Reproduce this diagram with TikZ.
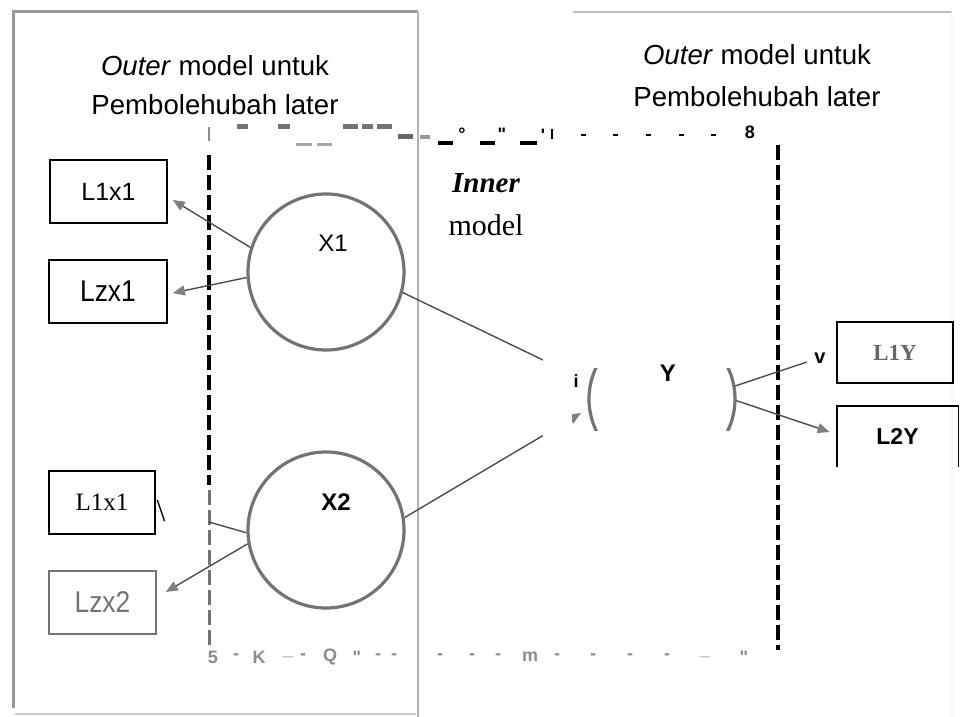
\documentclass[tikz,border=0pt]{standalone}
\usepackage{fontspec}
\setmainfont{Liberation Serif}
\setsansfont{Liberation Sans}
\usetikzlibrary{arrows.meta}

\begin{document}
\begin{tikzpicture}[x=0.5pt, y=-0.5pt,
  every node/.style={font=\sffamily\fontsize{12}{14}\selectfont},
  ttl/.style={anchor=base, font=\sffamily\fontsize{13.8}{16}\selectfont},
  box/.style={draw, line width=0.8pt, minimum height=31.5pt, inner sep=0pt},
  lv/.style={circle, draw=black!55, line width=1.6pt, minimum size=78pt, inner sep=0pt},
  lnk/.style={draw=black!70, line width=0.7pt},
  arr/.style={lnk, -{Triangle[length=6pt,width=5pt,color=black!50]}},
  frm/.style={draw=black!40, line width=1.5pt},
  dsh/.style={line width=2pt, dash pattern=on 7.5pt off 2.5pt},
  junk/.style={font=\sffamily\bfseries\fontsize{9}{9}\selectfont, text=black!45, inner sep=0pt}]

\useasboundingbox (0,0) rectangle (960,717);

% frames
\draw[frm] (13,708) -- (13,12) -- (418,12);
\draw[draw=black!30, line width=1pt] (418,12) -- (418,717);
\draw[draw=black!20, line width=0.8pt] (15,714) -- (416,714);
\draw[draw=black!25, line width=1.2pt] (573,12) -- (952,12);
\draw[draw=black!4, line width=0.8pt] (952,12) -- (952,717);

% titles
\node[ttl] (ttlL1) at (215,76) {\textit{Outer} model untuk};
\node[ttl] (ttlL2) at (215,115) {Pembolehubah later};
\node[ttl] (ttlR1) at (757,65) {\textit{Outer} model untuk};
\node[ttl] (ttlR2) at (757,107) {Pembolehubah later};
\node[anchor=base, font=\rmfamily\bfseries\itshape\fontsize{14.5}{15}\selectfont] (inner) at (486,193) {Inner};
\node[anchor=base, font=\rmfamily\fontsize{15}{15}\selectfont] (model) at (486,235) {model};

% inner model border
\draw[dsh] (209,155) -- (209,485);
\draw[dsh, draw=black!55, line width=1.5pt] (209,490) -- (209,645);
\draw[black!45, line width=0.6pt] (209,127) -- (209,141);
\draw[dsh] (778,145) -- (778,650);
\foreach \a/\b in {237/248, 278/290, 343/358, 362/373, 377/392}
  \draw[black!55, line width=2.5pt] (\a,127) -- (\b,127);
\foreach \a/\b in {296/312, 317/332}
  \draw[black!35, line width=1.5pt] (\a,145) -- (\b,145);
\draw[black!60, line width=2.5pt] (398,137) -- (413,137);
\draw[black!40, line width=2pt] (420,137) -- (430,137);
\foreach \a/\b in {438/453, 480/495, 520/537}
  \draw[line width=2pt] (\a,143) -- (\b,143);
\foreach \x in {583,615,648,681,713}
  \draw[line width=1.2pt] (\x-2.5,135) -- (\x+2.5,135);
\draw[line width=1pt] (552,129) -- (552,139);
\node[junk, text=black] (deg) at (462,134) {°};
\node[junk, text=black] (qq) at (502,134) {\textquotedbl};
\node[junk, text=black] (q) at (543,135) {\textquotesingle};
\node[junk, text=black] (eight) at (750,132) {8};
\foreach \x/\c in {213/5, 236/-, 259/K, 288/\_, 303/-, 330/Q, 357/\textquotedbl, 378/-, 394/-,
    440/-, 472/-, 498/-, 530/m, 557/-, 593/-, 630/-, 667/-, 705/\_, 744/\textquotedbl}
  \node[junk] (bot\x) at (\x,657) {\c};

% indicators
\node[box, minimum width=58.5pt] (L1x1) at (108.5,191.5) {\fontsize{12.5}{13}\selectfont L1x1};
\node[box, minimum width=59pt] (Lzx1) at (108,291.5) {\fontsize{15}{15}\selectfont\scalebox{0.88}[1]{Lzx1}};
\node[box, minimum width=53pt, font=\rmfamily\fontsize{12.5}{13}\selectfont] (L1x1b) at (102,502.5) {L1x1};
\node[box, draw=black!55, text=black!55, minimum width=53.5pt] (Lzx2) at (102.5,602.5) {\fontsize{15}{15}\selectfont\scalebox{0.88}[1]{Lzx2}};
\node[box, minimum width=58pt, minimum height=30.5pt, text=black!60,
  font=\rmfamily\bfseries\fontsize{11.5}{12}\selectfont] (L1Y) at (895,352.5) {L1Y};
\node[minimum width=60.5pt, minimum height=30.5pt, inner sep=0pt,
  font=\sffamily\bfseries\fontsize{11.5}{12}\selectfont] (L2Y) at (897.5,436.5) {L2Y};
\draw[line width=0.9pt] (L2Y.south west) |- (L2Y.north east) -- (L2Y.south east);

% latent variables
\node[lv] (X1) at (326,272) {};
\node[lv] (X2) at (326,530) {};
\node[circle, minimum size=73pt, inner sep=0pt] (Y) at (662,399) {};
\node (tX1) at (333,243) {X1};
\node[font=\sffamily\bfseries\fontsize{12}{14}\selectfont] (tX2) at (336,502) {X2};

% connectors
\coordinate (cut1) at (543,360);
\coordinate (cut3) at (209,522);
\coordinate (cutv) at (807,362);
\coordinate (tipY) at (581,413);
\draw[arr] (X1.162) -- ([xshift=2.5pt,yshift=-4.25pt]L1x1.east);
\draw[arr] (X1.184) -- ([xshift=2.5pt,yshift=-0.75pt]Lzx1.east);
\draw[lnk] (X1.-15) -- (cut1);
\draw[arr] (X2.9.5) -- (tipY);
\draw[lnk] (X2.182) -- (cut3);
\draw[arr] (X2.190) -- ([xshift=4.5pt,yshift=5.25pt]Lzx2.east);
\draw[lnk] (Y.10) -- (cutv);
\draw[arr] (Y.-1) -- ([xshift=-3.5pt,yshift=2.25pt]L2Y.west);
\fill[white] (543,336) rectangle (572,442);
\begin{scope}
  \clip (560,368) rectangle (760,430);
  \draw[draw=black!55, line width=1.6pt] (Y.center) circle[radius=36.5pt];
\end{scope}
\node[font=\sffamily\bfseries\fontsize{12}{14}\selectfont] (tY) at (668,373) {Y};
\node[junk, text=black, font=\sffamily\bfseries\fontsize{9}{9}\selectfont] (ti) at (576,381) {i};
\node[junk, text=black, font=\sffamily\bfseries\fontsize{10}{10}\selectfont] (tv) at (820,358) {v};
\node[font=\rmfamily\fontsize{16}{16}\selectfont] (bsl) at (161,511) {\textbackslash};
\end{tikzpicture}
\end{document}
